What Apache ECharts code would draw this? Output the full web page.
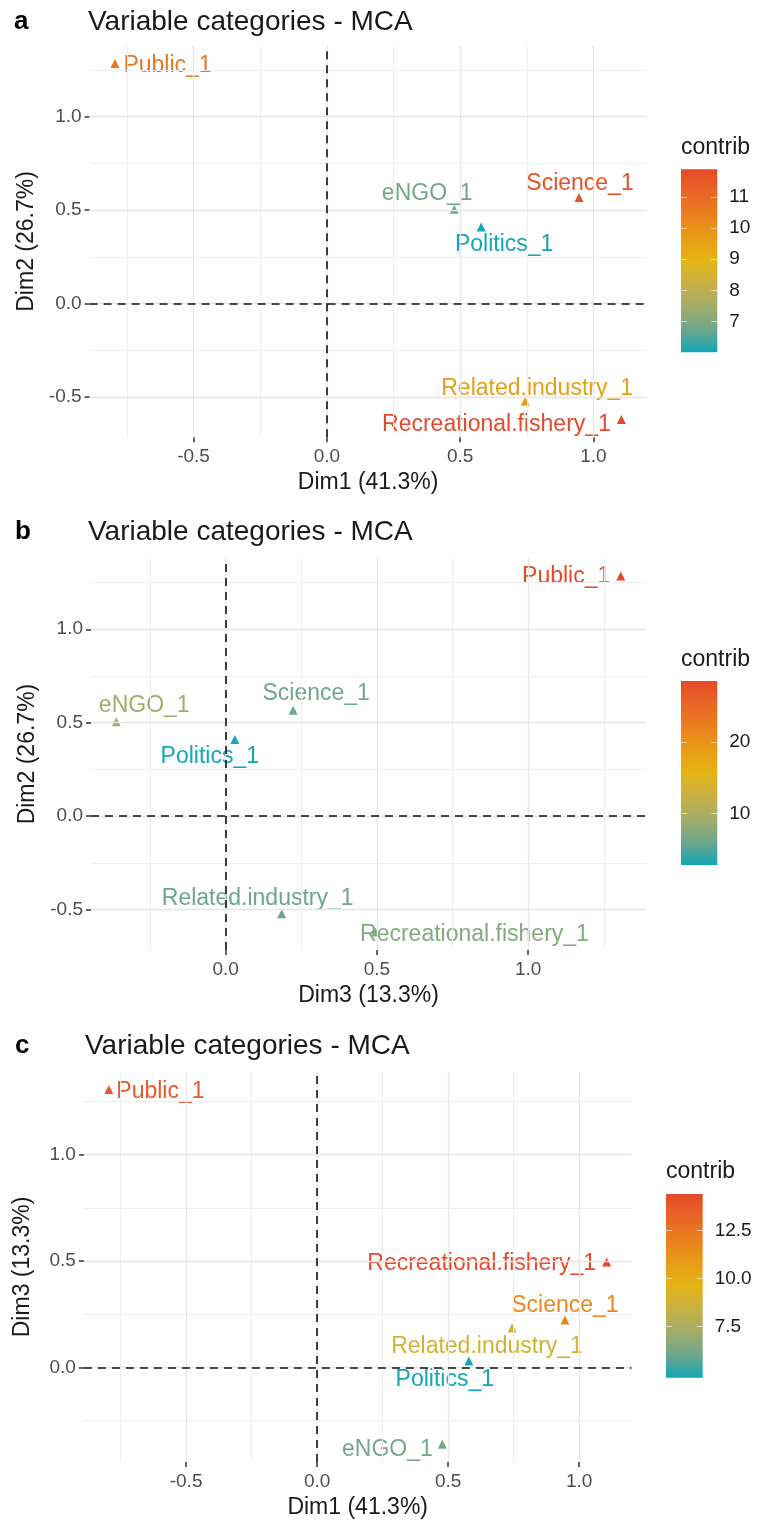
<!DOCTYPE html>
<html>
<head>
<meta charset="utf-8">
<script src="https://cdn.jsdelivr.net/npm/echarts@6/dist/echarts.min.js"></script>
<style>
  html, body { margin: 0; padding: 0; background: #ffffff; }
  #chart { width: 765px; height: 1524px; }
</style>
</head>
<body>
<div id="chart"></div>
<script>
// MCA variable categories: coordinates on the first three dimensions
const categories = ['Public_1', 'eNGO_1', 'Politics_1', 'Science_1', 'Related.industry_1', 'Recreational.fishery_1'];
const dim1 = [-0.795, 0.478, 0.579, 0.946, 0.744, 1.105];
const dim2 = [1.285, 0.505, 0.410, 0.567, -0.523, -0.621];
const dim3 = [1.306, -0.362, 0.030, 0.223, 0.185, 0.495];

// contribution of each category to the plotted plane
const contribA = [10.7, 6.8, 6.0, 11.7, 9.6, 11.9];    // Dim1 x Dim2
const contribB = [28.5, 9.2, 2.8, 6.2, 5.9, 7.3];      // Dim3 x Dim2
const contribC = [13.7, 6.2, 4.84, 11.7, 8.9, 14.4];   // Dim1 x Dim3

// axis tick labels
const ticksDim1 = [-0.5, 0, 0.5, 1.0];
const ticksDim2 = [-0.5, 0, 0.5, 1.0];
const ticksDim3x = [0, 0.5, 1.0];
const ticksDim3y = [0, 0.5, 1.0];

// grid lines (major + minor)
const gridDim1 = [-0.75, -0.5, -0.25, 0, 0.25, 0.5, 0.75, 1.0];
const gridDim2 = [-0.5, -0.25, 0, 0.25, 0.5, 0.75, 1.0, 1.25];
const gridDim3x = [-0.25, 0, 0.25, 0.5, 0.75, 1.0, 1.25];
const gridDim3y = [-0.25, 0, 0.25, 0.5, 0.75, 1.0, 1.25];

// colour bar tick labels
const legendTicksA = [7, 8, 9, 10, 11];
const legendTicksB = [10, 20];
const legendTicksC = [7.5, 10.0, 12.5];

const FONT = '"Liberation Sans", Arial, Helvetica, sans-serif';
// teal -> yellow -> red, interpolated through Lab
const GRADIENT = ['#12A6B6', '#6FA68C', '#A2AD6A', '#C8B044', '#E3B514', '#E89C16', '#EA801E', '#E86526', '#E5492A'];

// label placement around each triangle (repelled text)
const labelLayoutA = {
  'Public_1': { position: 'right', distance: 4, offset: [0, 2] },
  'eNGO_1': { position: 'inside', offset: [-27, -15] },
  'Politics_1': { position: 'inside', offset: [23, 18] },
  'Science_1': { position: 'inside', offset: [1, -14] },
  'Related.industry_1': { position: 'inside', offset: [12, -13] },
  'Recreational.fishery_1': { position: 'left', distance: 6, offset: [0, 5] }
};
const labelLayoutB = {
  'Public_1': { position: 'left', distance: 6, offset: [0, 1] },
  'eNGO_1': { position: 'inside', offset: [28, -16] },
  'Politics_1': { position: 'inside', offset: [-25, 17] },
  'Science_1': { position: 'inside', offset: [23, -16] },
  'Related.industry_1': { position: 'inside', offset: [-24, -15] },
  'Recreational.fishery_1': { position: 'inside', offset: [99, 3] }
};
const labelLayoutC = {
  'Public_1': { position: 'right', distance: 3, offset: [0, 2] },
  'eNGO_1': { position: 'left', distance: 5, offset: [0, 5] },
  'Politics_1': { position: 'inside', offset: [-24, 19] },
  'Science_1': { position: 'inside', offset: [0, -14] },
  'Related.industry_1': { position: 'inside', offset: [-25, 19] },
  'Recreational.fishery_1': { position: 'left', distance: 6, offset: [0, 2] }
};

// ggplot-style 5% expansion of the data range
function expandRange(vals) {
  const lo = Math.min(...vals), hi = Math.max(...vals), pad = (hi - lo) * 0.05;
  return [lo - pad, hi + pad];
}

const panels = [
  {
    letter: 'a', xs: dim1, ys: dim2, contrib: contribA,
    xName: 'Dim1 (41.3%)', yName: 'Dim2 (26.7%)',
    xTicks: ticksDim1, yTicks: ticksDim2, xGrid: gridDim1, yGrid: gridDim2,
    legendTicks: legendTicksA, legendFmt: v => String(v), labels: labelLayoutA,
    plot: { left: 89.6, top: 45.6, width: 557.1, height: 391.7 },
    bar: { left: 681, top: 169.3, width: 36.3, height: 183 },
    titleTop: 8, titleLeft: 88, letterLeft: 14, legendTitle: { left: 681, top: 136 }
  },
  {
    letter: 'b', xs: dim3, ys: dim2, contrib: contribB,
    xName: 'Dim3 (13.3%)', yName: 'Dim2 (26.7%)',
    xTicks: ticksDim3x, yTicks: ticksDim2, xGrid: gridDim3x, yGrid: gridDim2,
    legendTicks: legendTicksB, legendFmt: v => String(v), labels: labelLayoutB,
    plot: { left: 91, top: 558.2, width: 555, height: 391.7 },
    bar: { left: 681, top: 681, width: 36.3, height: 184 },
    titleTop: 518, titleLeft: 88, letterLeft: 15, legendTitle: { left: 681, top: 648 }
  },
  {
    letter: 'c', xs: dim1, ys: dim3, contrib: contribC,
    xName: 'Dim1 (41.3%)', yName: 'Dim3 (13.3%)',
    xTicks: ticksDim1, yTicks: ticksDim3y, xGrid: gridDim1, yGrid: gridDim3y,
    legendTicks: legendTicksC, legendFmt: v => v.toFixed(1), labels: labelLayoutC,
    plot: { left: 83.9, top: 1071.8, width: 547.6, height: 390.3 },
    bar: { left: 666, top: 1194, width: 36.7, height: 183.7 },
    titleTop: 1032, titleLeft: 85, letterLeft: 15, legendTitle: { left: 666, top: 1160 }
  }
];

const grid = [], xAxis = [], yAxis = [], series = [], visualMap = [], title = [];

panels.forEach((p) => {
  const xr = expandRange(p.xs), yr = expandRange(p.ys);
  const cMin = Math.min(...p.contrib), cMax = Math.max(...p.contrib);

  // plot panel
  const gi = grid.length;
  grid.push(Object.assign({ containLabel: false }, p.plot));
  const xi = xAxis.length, yi = yAxis.length;
  xAxis.push({
    type: 'value', gridIndex: gi, min: xr[0], max: xr[1],
    name: p.xName, nameLocation: 'middle', nameGap: 34,
    nameTextStyle: { fontFamily: FONT, fontSize: 23, color: '#1a1a1a' },
    axisLine: { show: false, onZero: false },
    axisTick: { show: true, length: 5, customValues: p.xTicks, lineStyle: { color: '#333', width: 1.5 } },
    axisLabel: { customValues: p.xTicks, margin: 10, fontFamily: FONT, fontSize: 19, color: '#4d4d4d',
                 formatter: v => v.toFixed(1) },
    splitLine: { show: false }
  });
  yAxis.push({
    type: 'value', gridIndex: gi, min: yr[0], max: yr[1],
    name: p.yName, nameLocation: 'middle', nameGap: 50, nameRotate: 90,
    nameTextStyle: { fontFamily: FONT, fontSize: 23, color: '#1a1a1a' },
    axisLine: { show: false, onZero: false },
    axisTick: { show: true, length: 5, customValues: p.yTicks, lineStyle: { color: '#333', width: 1.5 } },
    axisLabel: { customValues: p.yTicks, margin: 8, fontFamily: FONT, fontSize: 19, color: '#4d4d4d',
                 formatter: v => v.toFixed(1) },
    splitLine: { show: false }
  });

  // background grid lines: majors on multiples of 0.5, minors between
  const isMajor = v => Math.abs(v * 2 - Math.round(v * 2)) < 1e-9;
  const gridLine = v => ({ lineStyle: { color: isMajor(v) ? '#e6e6e6' : '#eeeeee', width: isMajor(v) ? 1.3 : 1, type: 'solid' } });
  series.push({
    type: 'line', xAxisIndex: xi, yAxisIndex: yi, data: [], z: 1, silent: true,
    markLine: {
      silent: true, symbol: ['none', 'none'], label: { show: false }, animation: false,
      data: p.xGrid.map(v => Object.assign({ xAxis: v }, gridLine(v)))
        .concat(p.yGrid.map(v => Object.assign({ yAxis: v }, gridLine(v))))
    }
  });
  // dashed origin lines
  series.push({
    type: 'line', xAxisIndex: xi, yAxisIndex: yi, data: [], z: 2, silent: true,
    markLine: {
      silent: true, symbol: ['none', 'none'], label: { show: false }, animation: false,
      lineStyle: { color: '#111', width: 1.6, type: [8, 6] },
      data: [{ xAxis: 0 }, { yAxis: 0 }]
    }
  });
  // category points
  const si = series.length;
  series.push({
    type: 'scatter', xAxisIndex: xi, yAxisIndex: yi, z: 3,
    symbol: 'triangle', symbolSize: 9,
    itemStyle: { opacity: 1 },
    data: categories.map((name, k) => ({
      name: name,
      value: [p.xs[k], p.ys[k], p.contrib[k]],
      label: Object.assign({
        show: true, formatter: name, color: 'inherit',
        fontFamily: FONT, fontSize: 23
      }, p.labels[name])
    }))
  });
  visualMap.push({
    type: 'continuous', show: false, seriesIndex: si, dimension: 2,
    min: cMin, max: cMax, inRange: { color: GRADIENT }
  });

  // colour bar
  const bi = grid.length;
  grid.push(Object.assign({
    show: true, borderWidth: 0,
    backgroundColor: new echarts.graphic.LinearGradient(0, 1, 0, 0,
      GRADIENT.map((c, k) => ({ offset: k / (GRADIENT.length - 1), color: c })))
  }, p.bar));
  xAxis.push({ type: 'value', gridIndex: bi, show: false, min: 0, max: 1 });
  yAxis.push({
    type: 'value', gridIndex: bi, position: 'right', min: cMin, max: cMax,
    axisLine: { show: false, onZero: false },
    axisTick: { show: true, inside: true, length: 6, customValues: p.legendTicks, lineStyle: { color: 'rgba(255,255,255,0.6)', width: 1 } },
    axisLabel: { customValues: p.legendTicks, margin: 12, fontFamily: FONT, fontSize: 19, color: '#1a1a1a',
                 formatter: p.legendFmt },
    splitLine: { show: false }
  });
  yAxis.push({
    type: 'value', gridIndex: bi, position: 'left', min: cMin, max: cMax,
    axisLine: { show: false, onZero: false },
    axisTick: { show: true, inside: true, length: 6, customValues: p.legendTicks, lineStyle: { color: 'rgba(255,255,255,0.6)', width: 1 } },
    axisLabel: { show: false },
    splitLine: { show: false }
  });

  // titles
  title.push({
    text: p.letter, left: p.letterLeft, top: p.titleTop + 1, padding: 0,
    textStyle: { fontFamily: FONT, fontSize: 26, fontWeight: 'bold', color: '#000' }
  });
  title.push({
    text: 'Variable categories - MCA', left: p.titleLeft, top: p.titleTop, padding: 0,
    textStyle: { fontFamily: FONT, fontSize: 28, fontWeight: 'normal', color: '#1a1a1a' }
  });
  title.push({
    text: 'contrib', left: p.legendTitle.left, top: p.legendTitle.top, padding: 0,
    textStyle: { fontFamily: FONT, fontSize: 23, fontWeight: 'normal', color: '#1a1a1a' }
  });
});

const chart = echarts.init(document.getElementById('chart'), null, { renderer: 'canvas' });
chart.setOption({
  backgroundColor: '#ffffff',
  animation: false,
  title: title,
  grid: grid,
  xAxis: xAxis,
  yAxis: yAxis,
  visualMap: visualMap,
  series: series
});
</script>
</body>
</html>
